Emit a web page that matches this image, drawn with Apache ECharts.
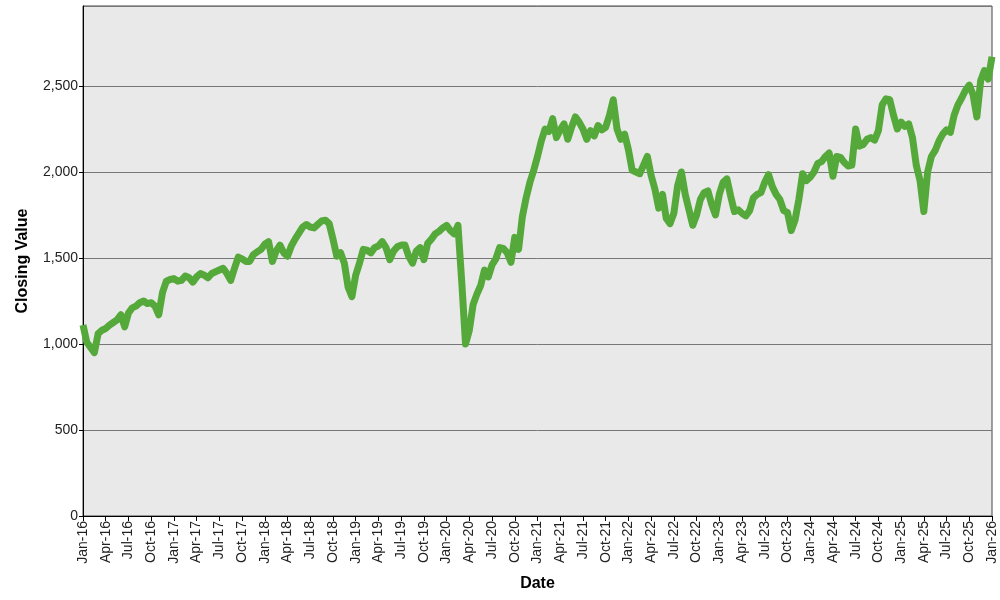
<!DOCTYPE html>
<html>
<head>
<meta charset="utf-8">
<script src="https://cdn.jsdelivr.net/npm/echarts@6/dist/echarts.min.js"></script>
<style>
    html, body { margin: 0; padding: 0; background: #fff; }
    #chart { width: 1000px; height: 600px; }
</style>
</head>
<body>
<div id="chart"></div>
<script>
// closing values, one reading every half month from Jan-16 to Jan-26
var closeValues = [
    1110, 1010, 980, 950, 1060, 1080, 1090, 1110, 1125, 1140, 1170, 1100,
    1180, 1210, 1220, 1240, 1250, 1235, 1240, 1220, 1170, 1300, 1365, 1375,
    1380, 1365, 1370, 1395, 1385, 1360, 1390, 1410, 1400, 1385, 1410, 1420,
    1430, 1440, 1410, 1370, 1440, 1505, 1495, 1480, 1480, 1520, 1535, 1550,
    1580, 1595, 1480, 1540, 1575, 1530, 1510, 1570, 1610, 1645, 1680, 1695,
    1680, 1675, 1695, 1715, 1720, 1700, 1610, 1510, 1530, 1470, 1330, 1275,
    1400, 1470, 1550, 1545, 1530, 1560, 1570, 1595, 1560, 1490, 1540, 1565,
    1575, 1575, 1510, 1470, 1540, 1560, 1490, 1585, 1610, 1640, 1655, 1675,
    1690, 1660, 1640, 1690, 1360, 1000, 1080, 1230, 1290, 1340, 1430, 1390,
    1460, 1495, 1560, 1555, 1530, 1475, 1620, 1550, 1740, 1850, 1940, 2010,
    2090, 2180, 2250, 2235, 2310, 2200, 2245, 2280, 2190, 2260, 2320, 2290,
    2250, 2190, 2240, 2210, 2270, 2245, 2260, 2330, 2420, 2250, 2190, 2220,
    2130, 2010, 2000, 1990, 2040, 2090, 1980, 1900, 1790, 1870, 1730, 1700,
    1760, 1920, 2000, 1870, 1780, 1690, 1750, 1840, 1880, 1890, 1810, 1750,
    1870, 1940, 1960, 1860, 1770, 1780, 1760, 1745, 1775, 1850, 1870, 1880,
    1940, 1985, 1915, 1870, 1840, 1775, 1765, 1660, 1720, 1840, 1990, 1950,
    1970, 2000, 2050, 2060, 2090, 2110, 1975, 2090, 2085, 2055, 2035, 2040,
    2250, 2150, 2160, 2190, 2200, 2185, 2240, 2390, 2425, 2420, 2330, 2250,
    2290, 2265, 2280, 2200, 2040, 1950, 1770, 2000, 2090, 2125, 2180, 2220,
    2245, 2230, 2330, 2390, 2430, 2475, 2505, 2450, 2320, 2530, 2590, 2540,
    2670
];
var monthNames = ["Jan", "Feb", "Mar", "Apr", "May", "Jun", "Jul", "Aug", "Sep", "Oct", "Nov", "Dec"];
var startYear = 2016;

// half month categories: 2016-01-01, 2016-01-16, ...
var dates = [];
for (var i = 0; i < closeValues.length; i++) {
    var m = Math.floor(i / 2);
    var y = startYear + Math.floor(m / 12);
    var mm = m % 12 + 1;
    dates.push(y + "-" + (mm < 10 ? "0" + mm : mm) + (i % 2 ? "-16" : "-01"));
}

function fnDateLabel(s) {
    var parts = s.split("-");
    return monthNames[parseInt(parts[1], 10) - 1] + "-" + parts[0].slice(2);
}

var myChart = echarts.init(document.getElementById("chart"));
myChart.setOption({
    animation: false,
    textStyle: { fontFamily: "Liberation Sans" },
    grid: {
        left: 83, right: 8, top: 6, bottom: 84,
        show: true,
        backgroundColor: "#e9e9e9",
        borderColor: "#444",
        borderWidth: 1
    },
    xAxis: {
        type: "category",
        data: dates,
        boundaryGap: false,
        name: "Date",
        nameLocation: "middle",
        nameGap: 60,
        nameTextStyle: { fontSize: 16, fontWeight: "bold", color: "#000" },
        axisLine: { lineStyle: { color: "#000", width: 1 } },
        axisTick: { interval: 5, length: 5, lineStyle: { color: "#000" } },
        axisLabel: {
            interval: 5,
            rotate: 90,
            fontSize: 14,
            color: "#222",
            margin: 5,
            formatter: fnDateLabel
        },
        splitLine: { show: false }
    },
    yAxis: {
        type: "value",
        min: 0,
        max: 2965,
        interval: 500,
        name: "Closing Value",
        nameLocation: "middle",
        nameGap: 52,
        nameTextStyle: { fontSize: 16, fontWeight: "bold", color: "#000" },
        axisLine: { show: true, lineStyle: { color: "#000", width: 1 } },
        axisTick: { show: true, length: 4, lineStyle: { color: "#000" } },
        axisLabel: {
            fontSize: 14,
            color: "#222",
            margin: 5,
            showMaxLabel: false,
            formatter: function (v) {
                return v.toLocaleString("en-US");
            }
        },
        splitLine: { lineStyle: { color: "#777", width: 1 } }
    },
    series: [{
        name: "Closing Value",
        type: "line",
        data: closeValues,
        symbol: "none",
        smooth: false,
        lineStyle: { color: "#55a93b", width: 7, join: "round" }
    }]
});
</script>
</body>
</html>
